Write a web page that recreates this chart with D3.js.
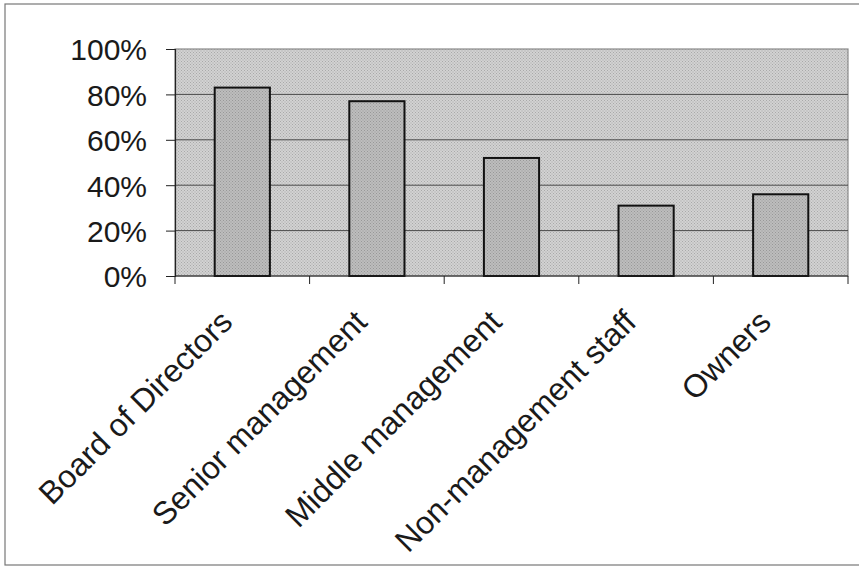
<!DOCTYPE html>
<html>
<head>
<meta charset="utf-8">
<script src="https://cdn.jsdelivr.net/npm/d3@7/dist/d3.min.js"></script>
<style>
  html, body { margin: 0; padding: 0; background: #fff; }
  svg { display: block; }
  text { font-family: "Liberation Sans", Arial, sans-serif; fill: #1a1a1a; }
</style>
</head>
<body>
<script>
// Share of respondents by group
const categories = ["Board of Directors", "Senior management", "Middle management", "Non-management staff", "Owners"];
const values = [0.83, 0.77, 0.52, 0.31, 0.36];
const yTicks = [0, 0.2, 0.4, 0.6, 0.8, 1.0];

const W = 859, H = 566;
const margin = { top: 49, right: 11, bottom: 290, left: 175 };
const innerW = W - margin.left - margin.right;
const innerH = H - margin.top - margin.bottom;

const svg = d3.select("body").append("svg")
  .attr("width", W).attr("height", H);

// outer frame
svg.append("rect")
  .attr("x", 5).attr("y", 4).attr("width", W + 10).attr("height", 561)
  .attr("fill", "none").attr("stroke", "#777").attr("stroke-width", 1.2);

// halftone texture for the plot area and the bars
const defs = svg.append("defs");
function dots(id, bg, fg) {
  const p = defs.append("pattern").attr("id", id)
    .attr("width", 3).attr("height", 3).attr("patternUnits", "userSpaceOnUse");
  p.append("rect").attr("width", 3).attr("height", 3).attr("fill", bg);
  p.append("rect").attr("width", 1).attr("height", 1).attr("fill", fg);
  p.append("rect").attr("x", 1.5).attr("y", 1.5).attr("width", 1).attr("height", 1).attr("fill", fg);
}
dots("plotTex", "#d2d2d2", "#a9a9a9");
dots("barTex", "#bdbdbd", "#989898");

const g = svg.append("g").attr("transform", `translate(${margin.left},${margin.top})`);

const x = d3.scaleBand().domain(categories).range([0, innerW]).paddingInner(0.59).paddingOuter(0.295);
const y = d3.scaleLinear().domain([0, 1]).range([innerH, 0]);

// plot area
g.append("rect")
  .attr("x", 0).attr("y", 0).attr("width", innerW).attr("height", innerH)
  .attr("fill", "url(#plotTex)").attr("stroke", "#8a8a8a").attr("stroke-width", 1.2);

// gridlines
g.append("g").selectAll("line").data(yTicks.filter(t => t > 0 && t < 1)).join("line")
  .attr("x1", 0).attr("x2", innerW)
  .attr("y1", d => y(d)).attr("y2", d => y(d))
  .attr("stroke", "#4a4a4a").attr("stroke-width", 1);

// bars
g.append("g").selectAll("rect").data(values).join("rect")
  .attr("x", (d, i) => x(categories[i]))
  .attr("y", d => y(d))
  .attr("width", x.bandwidth())
  .attr("height", d => innerH - y(d))
  .attr("fill", "url(#barTex)")
  .attr("stroke", "#111").attr("stroke-width", 2);

// y axis
const yAxis = g.append("g")
  .call(d3.axisLeft(y).tickValues(yTicks).tickFormat(d3.format(".0%")).tickSize(9).tickPadding(19));
yAxis.select(".domain").attr("stroke", "#222").attr("stroke-width", 1.2);
yAxis.selectAll(".tick line").attr("stroke", "#222");
yAxis.selectAll(".tick text")
  .attr("font-size", 30).attr("font-family", "Liberation Sans, Arial, sans-serif").attr("fill", "#1a1a1a")
  .attr("dy", "0.36em");

// x axis: tick marks at category boundaries
const bounds = d3.range(categories.length + 1).map(i => i * innerW / categories.length);
const xAxis = g.append("g").attr("transform", `translate(0,${innerH})`);
xAxis.append("line").attr("x1", 0).attr("x2", innerW).attr("stroke", "#222").attr("stroke-width", 1.2);
xAxis.selectAll("line.tk").data(bounds).join("line").attr("class", "tk")
  .attr("x1", d => d).attr("x2", d => d).attr("y1", 0).attr("y2", 8)
  .attr("stroke", "#222");

// rotated category labels
xAxis.selectAll("text").data(categories).join("text")
  .attr("transform", d => `translate(${x(d) + x.bandwidth() / 2 - 8},${48}) rotate(-45)`)
  .attr("text-anchor", "end")
  .attr("font-size", 32)
  .text(d => d);
</script>
</body>
</html>
